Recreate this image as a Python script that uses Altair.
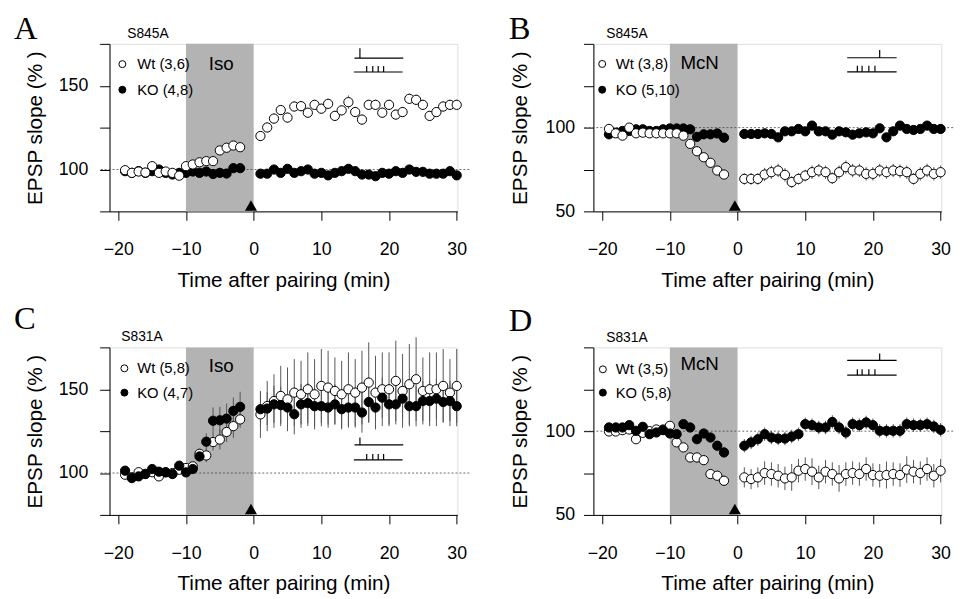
import altair as alt
import pandas as pd

# ---------------- data ----------------
TIME_PRE = [-19, -18, -17, -16, -15, -14, -13, -12, -11, -10, -9, -8, -7, -6, -5, -4, -3, -2]
TIME_POST = [1, 2, 3, 4, 5, 6, 7, 8, 9, 10, 11, 12, 13, 14, 15, 16, 17, 18, 19, 20,
             21, 22, 23, 24, 25, 26, 27, 28, 29, 30]
X_TICKS = [-20, -10, 0, 10, 20, 30]
X_DOMAIN = [-21.3, 30.1]

# Panel A (S845A, Iso)
A_wt = [99.6, 98, 98.8, 98.2, 102, 98, 98.8, 98, 96.3, 102, 103, 104.3, 105, 105, 111.4, 113, 114.3, 113.3,
        120, 125.1, 130.4, 135.5, 131, 137.6, 137.8, 133.9, 138.6, 136.3, 139.2, 132, 135.3, 140.2, 134.3,
        129.8, 138.6, 138.6, 133.9, 138.6, 132.8, 134.3, 142.2, 141.6, 138.6, 132, 134.3, 137.6, 138.6, 138.6]
A_wt_err = [1.5, 1.5, 1.5, 1.5, 1.5, 1.5, 1.5, 1.5, 1.5, 1.5, 1.5, 1.5, 1.5, 1.5, 2, 2, 2, 2,
            3, 3, 3, 3, 3, 3, 3, 3, 3, 3, 3, 3, 3, 4, 3, 3, 3, 3, 3, 3, 3, 3, 3, 3, 3, 3, 3, 3, 3, 3]
A_ko = [99, 98, 99, 98, 99, 100, 98, 97, 98, 98, 98.8, 98, 98.8, 97.3, 98, 97.6, 100.8, 100.8,
        97.5, 97.5, 100, 98, 100.4, 98, 99, 100, 97.5, 98, 96.5, 98, 99, 100.4, 99, 97, 97, 96, 98, 97.5,
        99, 98, 100, 98.6, 98.6, 97.5, 97.5, 97.5, 99, 96.5]
A_ko_err = [1.5] * 48

# Panel B (S845A, McN)
B_wt = [99.2, 96.6, 95.2, 100, 96.6, 97, 96.6, 96.6, 96.6, 96.6, 96.6, 95.2, 90.3, 85.9, 82.3, 79, 74.4, 72,
        69.4, 69.4, 69.4, 72, 73.4, 74.4, 71.8, 67.5, 69.4, 71.4, 73.4, 74.4, 73.4, 69.8, 73.4, 76.4, 74.4,
        74.4, 72.4, 72.4, 74.4, 73.4, 74.4, 74, 73.4, 69.4, 72.4, 74.4, 72.4, 73.4]
B_wt_err = [1.5, 1.5, 1.5, 1.5, 1.5, 1.5, 1.5, 1.5, 1.5, 1.5, 1.5, 1.5, 2, 2, 2, 2, 2, 2,
            3.5, 3.5, 3.5, 4, 4, 4, 4, 3.5, 3.5, 3.5, 4, 4, 4, 3.5, 4, 4, 4, 4, 4, 4, 4, 4, 4, 4, 4,
            3.5, 4, 4, 4, 4]
B_ko = [96, 97, 98, 98, 99, 99, 98, 98, 99, 99.5, 99.5, 99.5, 99, 94.5, 96, 96, 96.5, 94,
        96.2, 96.2, 96.2, 96.6, 96.2, 94.2, 97.8, 97.8, 99.2, 97.8, 101.2, 97.8, 97.8, 95.8, 97.8, 97.2,
        95.8, 96.6, 97.2, 96.6, 99.6, 94.2, 97.8, 101.2, 99.2, 98.6, 99.2, 101.2, 99.2, 99.2]
B_ko_err = [2] * 48

# Panel C (S831A, Iso)
C_wt = [99, 97.5, 100.5, 99.5, 100.5, 98, 100.5, 100, 102, 103, 104, 111.5, 110.5, 118.5, 120, 124.5, 128, 132,
        135, 140, 143, 146, 144, 148, 147, 150, 147, 152, 151, 149, 147, 150, 148, 151, 154, 148, 150, 150,
        155, 149, 153, 156, 149, 150, 150, 152, 148, 152]
C_wt_err = [1.5, 1.5, 1.5, 1.5, 1.5, 1.5, 1.5, 1.5, 1.5, 2, 2, 3, 4, 5, 6, 6, 7, 5,
            14, 15, 16, 18, 19, 20, 20, 22, 21, 22, 22, 20, 20, 22, 20, 22, 24, 22, 22, 22, 24, 22, 24,
            25, 20, 22, 22, 22, 20, 22]
C_ko = [101.4, 97, 98, 99.4, 102.4, 100.8, 100.4, 99.4, 104.4, 100.4, 102.4, 109.9, 118.7, 131.2, 131.5, 132.5,
        137.1, 139.5,
        138.1, 138.5, 141, 140.5, 139.1, 135.1, 141, 141.7, 139.9, 139.9, 139.1, 141, 138.1, 139.1, 139.1,
        136.1, 142.4, 139.1, 145, 141, 141, 144.4, 139.9, 139.9, 143, 143, 144.4, 142.4, 143, 139.9]
C_ko_err = [1.5, 1.5, 1.5, 1.5, 1.5, 1.5, 1.5, 1.5, 1.5, 2, 2, 3, 5, 8, 8, 9, 8, 9,
            10, 10, 11, 11, 12, 12, 12, 12, 12, 12, 12, 12, 12, 12, 12, 12, 12, 12, 12, 12, 12, 12, 12,
            12, 12, 12, 12, 12, 12, 12]

# Panel D (S831A, McN)
D_wt = [99.8, 99.8, 100.6, 101, 95.2, 99, 100, 101, 101, 103.2, 93.3, 90.3, 84.3, 84.3, 82.7, 74.4, 73.4, 70.4,
        72.4, 71.4, 72.4, 75, 74.4, 73.4, 71.8, 72.4, 76.4, 77.4, 75.8, 72.4, 75.8, 74.4, 71.8, 74.4, 75,
        74.4, 77.4, 73.8, 73.4, 73.8, 74.4, 73.8, 77, 75.8, 75, 77.4, 73.4, 76.4]
D_wt_err = [1.5, 1.5, 1.5, 1.5, 1.5, 1.5, 1.5, 1.5, 1.5, 1.5, 2, 2, 3, 3, 3, 3, 3, 3,
            6, 6, 6, 7, 7, 7, 7, 8, 7, 7, 8, 7, 7, 7, 8, 7, 7, 7, 7, 7, 7, 8, 7, 7, 8, 7, 7, 7, 7, 7]
D_ko = [102.2, 102.2, 102.2, 103.6, 100.2, 102.6, 98.2, 99.2, 100.6, 98.6, 98.2, 104.2, 102.2, 95.2, 98.6, 96.2,
        91.3, 87.3,
        91.3, 93.3, 95.2, 98.2, 96.2, 95.6, 95.6, 96.8, 98.2, 104.2, 103.6, 102.2, 102.2, 105.5, 102.2, 99.2,
        104.2, 103.6, 105.2, 103.6, 100.2, 100.2, 100.2, 100.2, 104.2, 103.6, 103.6, 104.2, 102.8, 100.8]
D_ko_err = [1.5, 1.5, 1.5, 1.5, 1.5, 1.5, 1.5, 1.5, 1.5, 1.5, 2, 2, 3, 3, 3, 3, 3, 3,
            4, 4, 4, 4, 4, 4, 4, 4, 4, 4, 4, 4, 4, 4, 4, 4, 4, 4, 4, 4, 4, 4, 4, 4, 4, 4, 4, 4, 4, 4]

# stimulation inset: [top line x from, to, single tick x] / [bottom line x from, to] / 4 ticks x
STIM_ISO_TOP = [14.9, 22.1, 15.7]
STIM_ISO_BOT = [14.8, 22.0]
STIM_ISO_TICKS = [16.7, 17.6, 18.4, 19.2]
STIM_MCN_TOP = [16.2, 23.5, 21.0]
STIM_MCN_BOT = [16.2, 23.5]
STIM_MCN_TICKS = [17.7, 18.4, 19.4, 20.3]

SANS = "Liberation Sans"
SERIF = "Liberation Serif"
W, H = 353, 170


def panel(letter, letter_xy, strain, strain_xy, drug, drug_pos, leg_wt, leg_ko, leg_x, leg_y,
          wt, wt_err, ko, ko_err, ydom, ylabels, stim_top, stim_bot, stim_ticks, stim_y, ko_on_top,
          ylab_pad, ytitle_pad):
    t = TIME_PRE + TIME_POST
    n = len(t)
    df = pd.DataFrame({
        "t": t + t,
        "v": wt + ko,
        "lo": [a - b for a, b in zip(wt + ko, wt_err + ko_err)],
        "hi": [a + b for a, b in zip(wt + ko, wt_err + ko_err)],
        "g": ["Wt"] * n + ["KO"] * n,
    })
    xs = alt.Scale(domain=X_DOMAIN, nice=False, zero=False)
    ys = alt.Scale(domain=ydom, nice=False, zero=False)
    yvals = list(range(ydom[0], ydom[1] + 1, 25))
    lab_expr = " || ".join(f"datum.value == {v}" for v in ylabels)
    xaxis = alt.Axis(values=X_TICKS, tickSize=9, labelFontSize=18, labelPadding=21, labelFont=SANS,
                     title="Time after pairing (min)", titleFont=SANS, titleFontSize=21,
                     titleFontWeight="normal", titlePadding=11, domainColor="black", tickColor="black",
                     labelColor="black", titleColor="black", grid=False, labelFlush=False,
                     labelOverlap=False)
    yaxis = alt.Axis(values=yvals, tickSize=10, labelFontSize=18, labelPadding=ylab_pad, labelFont=SANS,
                     labelExpr=f"({lab_expr}) ? datum.label : ''",
                     title="EPSP slope (% )", titleFont=SANS, titleFontSize=21,
                     titleFontWeight="normal", titlePadding=ytitle_pad, domainColor="black",
                     tickColor="black", labelColor="black", titleColor="black", grid=False,
                     labelOverlap=False)
    X = lambda f="t": alt.X(f"{f}:Q", scale=xs, axis=xaxis)
    Y = lambda f="v": alt.Y(f"{f}:Q", scale=ys, axis=yaxis)

    shade = alt.Chart(pd.DataFrame({"t": [-10], "t2": [0], "v": [ydom[0]], "v2": [ydom[1]]})).mark_rect(
        color="#b3b3b3").encode(x=X(), x2="t2:Q", y=Y(), y2="v2:Q")
    dash = alt.Chart(pd.DataFrame({"t": [-22.6], "t2": [32], "v": [100]})).mark_rule(
        color="#444", strokeDash=[2, 2], strokeWidth=0.8).encode(x=X(), x2="t2:Q", y=Y())
    err = alt.Chart(df).mark_rule(color="#555", strokeWidth=1).encode(x=X(), y=Y("lo"), y2="hi:Q")
    wt_pts = alt.Chart(df[df.g == "Wt"]).mark_point(
        shape="circle", filled=True, fill="white", stroke="black", strokeWidth=1, size=88, opacity=1
    ).encode(x=X(), y=Y())
    ko_pts = alt.Chart(df[df.g == "KO"]).mark_point(
        shape="circle", filled=True, fill="black", stroke="black", strokeWidth=1, size=88, opacity=1
    ).encode(x=X(), y=Y())
    pts = [wt_pts, ko_pts] if ko_on_top else [ko_pts, wt_pts]

    tri = alt.Chart(pd.DataFrame({"t": [-0.4]})).mark_point(
        shape="triangle-up", filled=True, color="black", size=150, opacity=1
    ).encode(x=X(), y=alt.value(H - 6))

    # stimulus inset lines
    s_top, s_tip, s_bot, s_btip = stim_y
    lines = pd.DataFrame({
        "t": [stim_top[0], stim_top[2], stim_bot[0]] + stim_ticks,
        "t2": [stim_top[1], stim_top[2], stim_bot[1]] + stim_ticks,
        "v": [s_top, s_top, s_bot] + [s_bot] * len(stim_ticks),
        "v2": [s_top, s_tip, s_bot] + [s_btip] * len(stim_ticks),
    })
    stim = alt.Chart(lines).mark_rule(color="black", strokeWidth=1.2).encode(
        x=X(), x2="t2:Q", y=Y(), y2="v2:Q")

    leg = pd.DataFrame({"t": [leg_x[0], leg_x[0]], "v": leg_y, "fillc": ["white", "black"],
                        "lab": [leg_wt, leg_ko], "tt": [leg_x[1], leg_x[1]]})
    leg_pts = alt.Chart(leg).mark_point(shape="circle", filled=True, stroke="black", strokeWidth=1,
                                         size=50, opacity=1).encode(
        x=X(), y=Y(), fill=alt.Fill("fillc:N", scale=None))
    leg_txt = alt.Chart(leg).mark_text(align="left", baseline="middle", font=SANS, fontSize=15,
                                       color="black").encode(x=X("tt"), y=Y(), text="lab:N")
    drug_txt = alt.Chart(pd.DataFrame({"t": [drug_pos[0]], "v": [drug_pos[1]], "lab": [drug]})).mark_text(
        align="center", baseline="middle", font=SANS, fontSize=19, color="black").encode(
        x=X(), y=Y(), text="lab:N")
    strain_txt = alt.Chart(pd.DataFrame({"lab": [strain]})).mark_text(
        align="left", baseline="middle", font=SANS, fontSize=14, color="black").encode(
        x=alt.value(strain_xy[0]), y=alt.value(strain_xy[1]), text="lab:N")
    letter_txt = alt.Chart(pd.DataFrame({"lab": [letter]})).mark_text(
        align="left", baseline="alphabetic", font=SERIF, fontSize=33, color="black").encode(
        x=alt.value(letter_xy[0]), y=alt.value(letter_xy[1]), text="lab:N")

    return alt.layer(shade, dash, err, *pts, tri, stim, leg_pts, leg_txt, drug_txt, strain_txt,
                     letter_txt).properties(width=W, height=H)


pA = panel("A", (-97, -5), "S845A", (18, -10), "Iso", (-4.8, 162.9), "Wt (3,6)", "KO (4,8)",
           (-19.4, -17.2), [162.9, 147.6], A_wt, A_wt_err, A_ko, A_ko_err, [75, 175], [100, 150],
           STIM_ISO_TOP, STIM_ISO_BOT, STIM_ISO_TICKS, [166.5, 172.4, 158.2, 161.8], False, 12, 13)
pB = panel("B", (-86, -5), "S845A", (13, -10), "McN", (-5.6, 138.7), "Wt (3,8)", "KO (5,10)",
           (-20.0, -18.0), [138.0, 122.6], B_wt, B_wt_err, B_ko, B_ko_err, [50, 150], [50, 100],
           STIM_MCN_TOP, STIM_MCN_BOT, STIM_MCN_TICKS, [141.7, 146.4, 133.3, 136.9], False, 9, 15)
pC = panel("C", (-97, -19), "S831A", (12, -10), "Iso", (-4.8, 163.9), "Wt (5,8)", "KO (4,7)",
           (-19.1, -17.2), [162.5, 148.0], C_wt, C_wt_err, C_ko, C_ko_err, [75, 175], [100, 150],
           STIM_ISO_TOP, STIM_ISO_BOT, STIM_ISO_TICKS, [116.8, 121.2, 107.9, 111.3], True, 12, 13)
pD = panel("D", (-86, -17), "S831A", (13, -9), "McN", (-5.6, 139.9), "Wt (3,5)", "KO (5,8)",
           (-19.9, -18.0), [136.9, 123.0], D_wt, D_wt_err, D_ko, D_ko_err, [50, 150], [50, 100],
           STIM_MCN_TOP, STIM_MCN_BOT, STIM_MCN_TICKS, [142.3, 146.3, 133.5, 136.9], True, 9, 15)

chart = alt.concat(pA, pB, pC, pD, columns=2, spacing=138, bounds="flush").configure_view(
    stroke=None).configure(background="white", padding={"left": 5, "top": 0, "right": 5, "bottom": 5})

chart.save("out.html", embed_options={"renderer": "svg", "actions": False})
